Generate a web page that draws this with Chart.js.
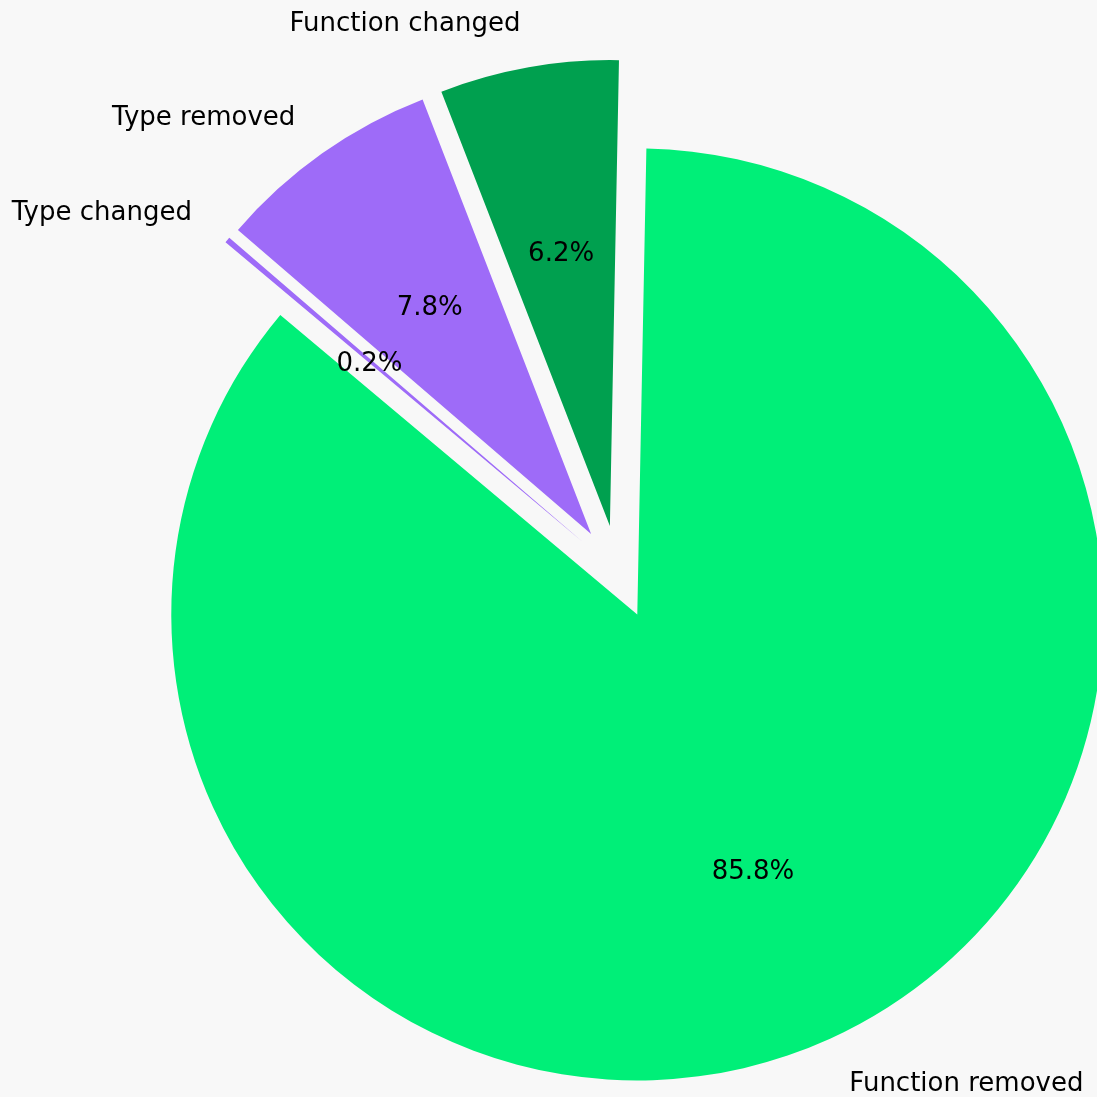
<!DOCTYPE html>
<html>
<head>
<meta charset="utf-8">
<script src="https://cdn.jsdelivr.net/npm/chart.js@4.4.1/dist/chart.umd.min.js"></script>
<style>
    html, body { margin: 0; padding: 0; background: #f8f8f8; }
    canvas { display: block; }
</style>
</head>
<body>
<canvas id="changeChart" width="1097" height="1097"></canvas>
<script>
// slices in clockwise order, starting just right of 12 o'clock
const categories = ['Function removed', 'Type changed', 'Type removed', 'Function changed'];
const shares = [85.8, 0.2, 7.8, 6.2];
const sliceColors = ['#00ef78', '#9e6bf8', '#9e6bf8', '#00a04f'];
const explode = [0.1, 0.1, 0.1, 0.1];

// pull every slice out along its bisector, as a fraction of the radius
const explodePlugin = {
    id: 'explode',
    afterDatasetsUpdate(chart) {
        const meta = chart.getDatasetMeta(0);
        meta.data.forEach((arc, i) => {
            const mid = (arc.startAngle + arc.endAngle) / 2;
            const d = explode[i] * arc.outerRadius;
            arc.x += Math.cos(mid) * d;
            arc.y += Math.sin(mid) * d;
        });
    }
};

// category name outside the slice, percentage inside
const sliceLabels = {
    id: 'sliceLabels',
    afterDatasetsDraw(chart) {
        const ctx = chart.ctx;
        const meta = chart.getDatasetMeta(0);
        const values = chart.data.datasets[0].data;
        const total = values.reduce((a, b) => a + b, 0);
        const dy = 3; // text box middle sits a bit lower than the em middle
        ctx.save();
        ctx.font = '26px "DejaVu Sans"';
        ctx.fillStyle = '#000000';
        ctx.textBaseline = 'middle';
        meta.data.forEach((arc, i) => {
            const mid = (arc.startAngle + arc.endAngle) / 2;
            const r = arc.outerRadius;
            const cx = Math.cos(mid), cy = Math.sin(mid);

            ctx.textAlign = cx > 0 ? 'left' : 'right';
            ctx.fillText(chart.data.labels[i], arc.x + cx * r * 1.1, arc.y + cy * r * 1.1 + dy);

            ctx.textAlign = 'center';
            const pct = (values[i] / total * 100).toFixed(1) + '%';
            ctx.fillText(pct, arc.x + cx * r * 0.6, arc.y + cy * r * 0.6 + dy);
        });
        ctx.restore();
    }
};

const ctx = document.getElementById('changeChart').getContext('2d');
const myChart = new Chart(ctx, {
    type: 'pie',
    data: {
        labels: categories,
        datasets: [{
            data: shares,
            backgroundColor: sliceColors,
            borderWidth: 0,
            clip: false
        }]
    },
    options: {
        responsive: false,
        devicePixelRatio: 1,
        animation: false,
        events: [],
        rotation: 1.12,
        radius: 466,
        layout: {
            padding: { left: 139, top: 47, right: 0, bottom: 0 }
        },
        plugins: {
            legend: { display: false },
            tooltip: { enabled: false }
        }
    },
    plugins: [explodePlugin, sliceLabels]
});
</script>
</body>
</html>
